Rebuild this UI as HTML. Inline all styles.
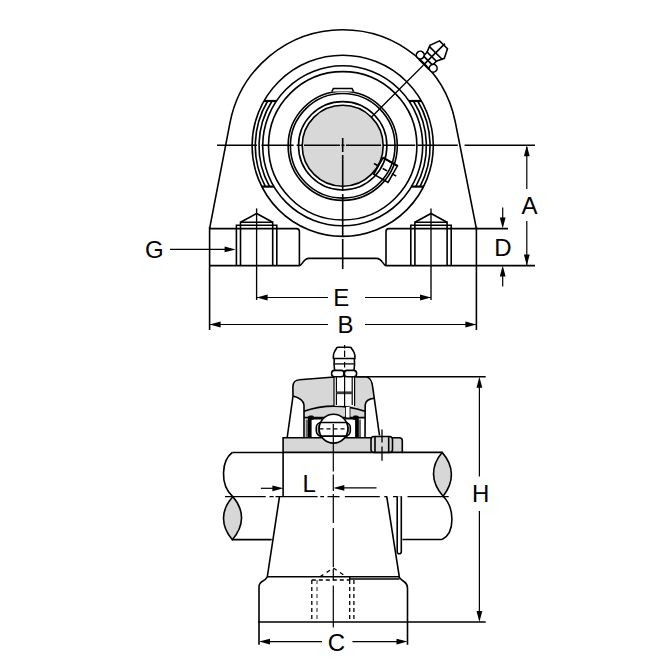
<!DOCTYPE html>
<html><head><meta charset="utf-8"><style>
html,body{margin:0;padding:0;background:#fff;}
svg{display:block;}
.s{stroke:#000;stroke-width:1.6;}
.t{stroke:#000;stroke-width:0.8;}
.d{stroke:#000;stroke-width:1.2;}
.c{stroke:#000;stroke-width:1.6;}
.cl{stroke:#000;stroke-width:1.2;stroke-dasharray:30 3 4 3;}
.dash{stroke:#000;stroke-width:1.3;stroke-dasharray:4 3;}
.lbl{font-family:"Liberation Sans",sans-serif;font-size:24px;text-anchor:middle;fill:#000;}
</style></head><body>
<svg width="670" height="670" viewBox="0 0 670 670">
<rect width="670" height="670" fill="#fff"/>
<g fill="none">
<path d="M209.6,228.6 L229.97,122.80 A114.8,114.8 0 0 1 455.31,122.18 L476.4,228.6" class="s"/>
<circle cx="342.7" cy="145.8" r="90.6" class="s"/>
<circle cx="342.7" cy="145.8" r="80.0" class="s"/>
<circle cx="342.7" cy="145.8" r="74.2" class="s"/>
<circle cx="342.7" cy="145.8" r="54.6" class="s"/>
<circle cx="342.7" cy="145.8" r="52.3" class="s"/>
<circle cx="342.7" cy="145.8" r="44.2" class="s"/>
<circle cx="342.7" cy="145.8" r="40.5" fill="#d8d8d8" class="s"/>
<path d="M267.66,101.00 A87.4,87.4 0 0 0 265.41,186.60" class="s"/>
<path d="M417.74,101.00 A87.4,87.4 0 0 1 419.99,186.60" class="s"/>
<path d="M272.00,101.00 A83.7,83.7 0 0 0 269.62,186.60" class="s"/>
<path d="M413.40,101.00 A83.7,83.7 0 0 1 415.78,186.60" class="s"/>
<line x1="263.95" y1="101.00" x2="276.42" y2="101.00" class="s" style="stroke-width:2.2"/>
<line x1="261.81" y1="186.60" x2="273.89" y2="186.60" class="s" style="stroke-width:2.2"/>
<line x1="421.45" y1="101.00" x2="408.98" y2="101.00" class="s" style="stroke-width:2.2"/>
<line x1="423.59" y1="186.60" x2="411.51" y2="186.60" class="s" style="stroke-width:2.2"/>
<path d="M331.8,91.6 L333.4,88.5 L352.0,88.5 L353.6,91.6" class="s" fill="#fff"/>
<line x1="371.55" y1="116.95" x2="423.31" y2="65.19" class="s" style="stroke-width:1.3"/>
<g transform="translate(342.7,145.8) rotate(-45)"><path d="M125.6,-6.5 L132.7,-9.3 L142.7,-5.7 L142.7,5.5 L133.7,10 L126.5,6.5" fill="#fff" class="s"/><rect x="115" y="-6.5" width="11" height="13" fill="none" class="s"/><circle cx="119" cy="-9.3" r="3.9" fill="#fff" class="s"/><circle cx="118.8" cy="9.2" r="3.9" fill="#fff" class="s"/><line x1="131.5" y1="-9.2" x2="131.5" y2="9.8" class="s"/><line x1="120.6" y1="-6.5" x2="120.6" y2="6.5" class="s"/><line x1="114" y1="0" x2="144.5" y2="0" class="s"/></g>
<g transform="translate(342.7,145.8) rotate(29.5)"><rect x="41" y="-9.5" width="16.5" height="19" fill="none" class="s"/><line x1="41" y1="-9.5" x2="57.5" y2="-9.5" class="s" style="stroke-width:2"/><line x1="36" y1="0" x2="40.5" y2="0" class="s"/><line x1="46" y1="0" x2="51" y2="0" class="s"/><line x1="56.5" y1="0" x2="61.5" y2="0" class="s"/></g>
<path d="M217,145.3 H257 M261.5,145.3 H293.6 M296.6,145.3 H302.5 M304,145.3 H340 M341.5,145.3 H344.5 M346,145.3 H381 M383,145.3 H415.3 M417.5,145.3 H457.8 M464.6,145.3 H535" class="c"/>
<path d="M342.7,138 V152 M342.7,155 V191 M342.7,194 V236 M342.7,239 V269" class="s"/>
<path d="M209.6,227 V330 M476.4,227 V330" class="s"/>
<path d="M209.6,228.6 H296.4 Q299.4,228.6 299.4,231.6 V265.6 M209.6,265.6 H299.4" class="s"/>
<path d="M476.4,228.6 H389 Q386,228.6 386,231.6 V265.6 M476.4,265.6 H386" class="s"/>
<path d="M299.4,265.6 C302.5,265.6 303,258.4 309,258.4 L376.4,258.4 C382.4,258.4 383,265.6 386,265.6" class="s"/>
<path d="M476.4,228.6 H508 M476.4,265.6 H535" class="s"/>
<path d="M236.40000000000003,265.7 V225.2 H276.8 V265.7" class="s"/>
<path d="M240.50000000000003,265.7 V222.3 H272.70000000000005 V265.7" class="s"/>
<path d="M240.50000000000003,222.3 L256.6,213.5 L272.70000000000005,222.3" class="s"/>
<path d="M256.6,208.4 V300" class="d" style="stroke-width:1.35"/>
<path d="M410.8,265.7 V225.2 H451.2 V265.7" class="s"/>
<path d="M414.9,265.7 V222.3 H447.1 V265.7" class="s"/>
<path d="M414.9,222.3 L431.0,213.5 L447.1,222.3" class="s"/>
<path d="M431.0,208.4 V300" class="d" style="stroke-width:1.35"/>
<path d="M170,249.4 H228" class="d"/>
<path d="M235.6,249.4 L224.60,252.30 L224.60,246.50 Z" fill="#000"/>
<path d="M256.6,297.5 H328 M365,297.5 H431" class="d"/>
<path d="M256.6,297.5 L267.60,294.60 L267.60,300.40 Z" fill="#000"/>
<path d="M431,297.5 L420.00,300.40 L420.00,294.60 Z" fill="#000"/>
<path d="M209.6,324.5 H328 M365,324.5 H476.4" class="d"/>
<path d="M209.6,324.5 L220.60,321.60 L220.60,327.40 Z" fill="#000"/>
<path d="M476.4,324.5 L465.40,327.40 L465.40,321.60 Z" fill="#000"/>
<path d="M526.8,147 V189 M526.8,221 V265.6" class="d"/>
<path d="M526.8,145.3 L529.70,156.30 L523.90,156.30 Z" fill="#000"/>
<path d="M526.8,265.6 L523.90,254.60 L529.70,254.60 Z" fill="#000"/>
<path d="M502.7,207.6 V222" class="d"/>
<path d="M502.7,228.6 L499.80,217.60 L505.60,217.60 Z" fill="#000"/>
<path d="M502.7,286.4 V272" class="d"/>
<path d="M502.7,265.6 L505.60,276.60 L499.80,276.60 Z" fill="#000"/>
<path d="M354,376.7 H485.7 M258,622 H485.7" class="s"/>
<path d="M479.4,384 V476.4 M479.4,510.9 V614" class="d"/>
<path d="M479.4,376.7 L482.30,387.70 L476.50,387.70 Z" fill="#000"/>
<path d="M479.4,622 L476.50,611.00 L482.30,611.00 Z" fill="#000"/>
<path d="M293,396 L292.9,387 C293,381.5 295,379.9 299.5,379.7 L331,377.3 L365.3,376.8 C370,377 372,380 372.8,387.8 L374.3,398.2 Q365.5,399 365.2,405 L365,417.6 L304,417.6 L304,405 Q303.5,398.8 293,396 Z" fill="#d7d7d7" stroke="none"/>
<path d="M287.2,437.5 L293,396 L292.9,387 C293,381.5 295,379.9 299.5,379.7 L331,377.3 L365.3,376.8 C370,377 372,380 372.8,387.8 L379.5,435.5" class="s"/>
<path d="M293,396 Q303.5,398.8 304,405 L304,437.5 M374.3,398.2 Q365.5,399 365.2,405 L365,437.5" class="s"/>
<path d="M304,411.3 Q333.5,401 365,411.3" class="s"/>
<path d="M304,417.6 H365" class="s"/>
<path d="M346,407 V417.6 M349.6,407.5 V417.6" class="s"/>
<rect x="346" y="407" width="3.6" height="10.6" fill="#fff"/>
<rect x="334" y="376.8" width="20.1" height="29" fill="#fff"/>
<path d="M334,376.8 V406 M336.4,376.8 V405 M352.2,376.8 V405 M354.6,376.8 V406" class="s" style="stroke-width:1.2"/>
<path d="M336.4,392.8 H352.2" stroke="#3a3a3a" stroke-width="2.8"/>
<rect x="305.6" y="419.5" width="2.4" height="18" fill="#6a6a6a"/>
<rect x="358.6" y="419.5" width="2.4" height="18" fill="#6a6a6a"/>
<path d="M307.9,437.5 V417.3 Q307.9,415.6 310,415.6 L312.5,415.6 Q313.8,415.6 313.8,417.3 L313.8,419.6 L311.6,419.9 V437.5 Z" fill="#000"/>
<path d="M358.8,437.5 V417.3 Q358.8,415.6 356.7,415.6 L354.2,415.6 Q352.9,415.6 352.9,417.3 L352.9,419.6 L355.1,419.9 V437.5 Z" fill="#000"/>
<path d="M312.8,418.6 H322 M345,418.6 H354.9" class="s"/>
<path d="M283.1,452.4 V437.8 H399.3 Q402.3,437.8 402.3,440.8 V452.4 Z" fill="#d7d7d7" class="s"/>
<rect x="371" y="436.5" width="21.5" height="15.9" rx="3" fill="#d7d7d7" class="s"/>
<path d="M375,437 V452 M388.7,437 V452" class="s"/>
<path d="M382,429.4 V442.5 M382,446.5 V460.8" class="s" style="stroke-width:1.3"/>
<rect x="316.3" y="422.5" width="34" height="13.6" rx="5" fill="#fff" class="s"/>
<rect x="318.3" y="423.5" width="30" height="11.6" rx="4" fill="none" class="t"/>
<circle cx="333.5" cy="428.7" r="14.4" fill="#fff" class="s"/>
<path d="M319.5,422.5 H347.5 M319.5,436.1 H347.5" class="s"/>
<path d="M319.5,428.8 H348" class="dash"/>
<path d="M333.3,424 V471.5 M333.3,474.5 V491 M333.3,494 V523 M333.3,528 V567 M333.3,569 V580.5 M333.3,585.5 V627.4" class="s" style="stroke-width:1.2"/>
<rect x="331.6" y="370.4" width="12.5" height="6.4" rx="3" fill="#fff" class="s"/>
<rect x="344.1" y="370.4" width="12.5" height="6.4" rx="3" fill="#fff" class="s"/>
<path d="M334.3,358.5 Q333.6,364 334.6,370.6 M354.3,358.5 Q355,364 354,370.6" class="s"/>
<path d="M334.4,363.9 H354.3" class="s" style="stroke-width:1.3"/>
<path d="M333.4,358.5 V355.5 Q333.6,353.5 334.6,351.5 L336.8,347.8 Q337.2,347.2 338,347.2 L350,347.2 Q350.7,347.2 351.1,347.8 L353.6,351.5 Q354.6,353.5 354.9,355.5 V358.5 Z" fill="#fff" class="s"/>
<path d="M344.6,345 V348.5 M344.6,350.5 V357 M344.6,362 V367.5 M344.6,370.5 V406" class="s" style="stroke-width:1.2"/>
<path d="M232.3,452.5 H283.1 M402.3,452.4 H442.1" class="s"/>
<path d="M232.3,539.6 H271.7 M402.4,539.5 H442.1" class="s"/>
<path d="M225,496.6 H265.7 M269.5,496.6 H273.7 M275.5,496.6 H317.6 M320.3,496.6 H324 M327.5,496.6 H339.5 M344.9,496.6 H379.8 M384.3,496.6 H387 M393,496.6 H401.5 M407.5,496.6 H448.7" class="s" style="stroke-width:1.4"/>
<path d="M232.3,452.5 C222,460 219,484 232.9,496.8" class="s"/>
<path d="M232.9,496.8 C220.5,510 220.5,526 232.3,539.7 C244.5,526 244.5,510 232.9,496.8 Z" fill="#d7d7d7" class="s"/>
<path d="M442.1,452.4 C430.5,466 430.5,482 443.1,496.3 C454.3,482 454.3,466 442.1,452.4 Z" fill="#d7d7d7" class="s"/>
<path d="M443.1,496.3 C454.8,508 455.3,533 442.1,539.5" class="s"/>
<path d="M283.1,452.4 V496.6" class="s"/>
<path d="M279.5,496.6 L267.3,576.8 C266,579 264,580.5 262.5,581.2 C260,582.5 259,584 259,587 V644.8" class="s"/>
<path d="M386.7,496.3 L399.4,577.4 C401,579.5 403,581 404.5,582 C406.5,583.5 407.5,585 407.5,588 V644.8" class="s"/>
<path d="M267.3,576.8 H399.4 M350.2,579 H399.4" class="s"/>
<path d="M397.2,496.3 V551.7 Q397.2,553.7 399.25,553.7 Q401.3,553.7 401.3,551.7 V496.3" fill="#fff" class="s"/>
<path d="M311.8,580 V622 M349.7,580 V622 M353.9,580 V622 M311.8,580 H349.3" class="dash"/>
<path d="M317,580 V622" class="dash" style="stroke:#555"/>
<path d="M320,576.8 L333.3,568 L346.5,576.8" class="dash" style="stroke-dasharray:4 4"/>
<path d="M349.8,577 V580" class="s"/>
<path d="M260.9,488.3 H274" class="d"/>
<path d="M283.4,488.3 L272.40,491.20 L272.40,485.40 Z" fill="#000"/>
<path d="M343,487.9 H376.5" class="d"/>
<path d="M333.3,487.9 L344.30,485.00 L344.30,490.80 Z" fill="#000"/>
<path d="M268,641.6 H322 M352.4,641.6 H398" class="d"/>
<path d="M259,641.6 L270.00,638.70 L270.00,644.50 Z" fill="#000"/>
<path d="M407.5,641.6 L396.50,644.50 L396.50,638.70 Z" fill="#000"/>
<text x="154.35" y="257.5" class="lbl">G</text>
<text x="341.3" y="305.9" class="lbl">E</text>
<text x="345.45" y="332.8" class="lbl">B</text>
<text x="529.45" y="213.7" class="lbl">A</text>
<text x="503" y="255.9" class="lbl">D</text>
<text x="309.1" y="491.7" class="lbl">L</text>
<text x="480.6" y="501.8" class="lbl">H</text>
<text x="336.45" y="650.5" class="lbl">C</text>
</g>
</svg>
</body></html>
